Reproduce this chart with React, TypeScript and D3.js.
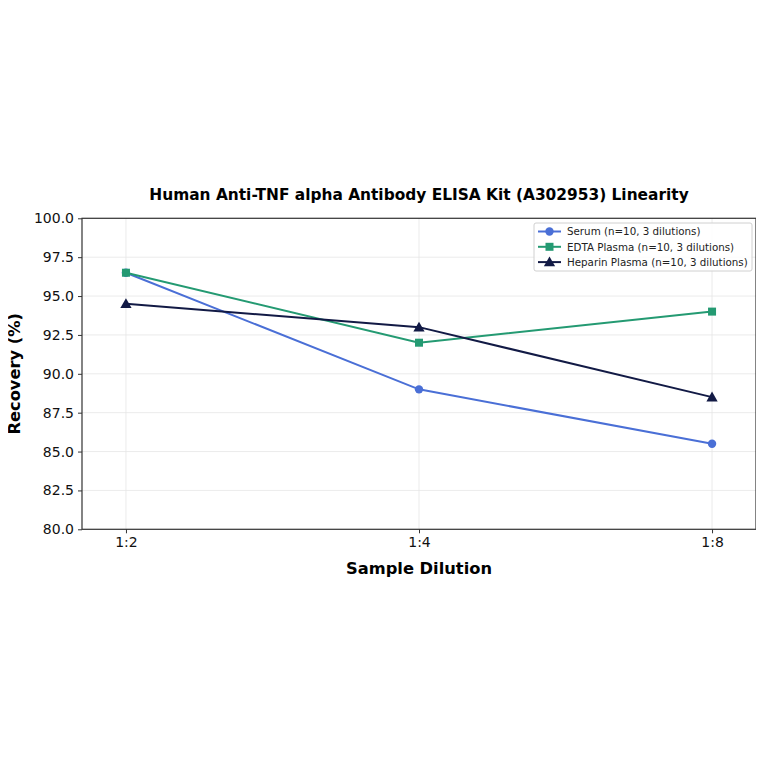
import * as d3 from 'd3';
import { useEffect, useRef } from 'react';

const dilutions = ['1:2', '1:4', '1:8'];
const serum = [96.5, 89.0, 85.5];
const edta = [96.5, 92.0, 94.0];
const heparin = [94.5, 93.0, 88.5];
const seriesNames = [
  'Serum (n=10, 3 dilutions)',
  'EDTA Plasma (n=10, 3 dilutions)',
  'Heparin Plasma (n=10, 3 dilutions)',
];
const yTicks = [80, 82.5, 85, 87.5, 90, 92.5, 95, 97.5, 100];

const FONT = 'DejaVu Sans, sans-serif';

const App: React.FC = () => {
  const ref = useRef<SVGSVGElement>(null);

  useEffect(() => {
    const svg = d3.select(ref.current);
    svg.selectAll('*').remove();

    const left = 82, right = 756, top = 218.3, bottom = 529.3;

    const x = d3.scaleLinear().domain([-0.15, 2.15]).range([left, right]);
    const y = d3.scaleLinear().domain([80, 100]).range([bottom, top]);

    const series = [
      { name: seriesNames[0], values: serum, color: '#4a6fd6', marker: 'circle' },
      { name: seriesNames[1], values: edta, color: '#249a72', marker: 'square' },
      { name: seriesNames[2], values: heparin, color: '#121a45', marker: 'triangle' },
    ];

    // grid
    const grid = svg.append('g');
    grid.selectAll('.gy')
      .data(yTicks)
      .enter()
      .append('line')
      .attr('x1', left).attr('x2', right)
      .attr('y1', (d) => y(d)).attr('y2', (d) => y(d))
      .attr('stroke', '#e6e6e6').attr('stroke-width', 0.8);
    grid.selectAll('.gx')
      .data(dilutions)
      .enter()
      .append('line')
      .attr('x1', (d, i) => x(i)).attr('x2', (d, i) => x(i))
      .attr('y1', top).attr('y2', bottom)
      .attr('stroke', '#e6e6e6').attr('stroke-width', 0.8);

    // axes
    const yAxis = svg.append('g')
      .attr('transform', `translate(${left},0)`)
      .call(d3.axisLeft(y).tickValues(yTicks).tickFormat(d3.format('.1f')).tickSizeOuter(0).tickSize(4).tickPadding(4));
    const xAxis = svg.append('g')
      .attr('transform', `translate(0,${bottom})`)
      .call(d3.axisBottom(x).tickValues([0, 1, 2]).tickFormat((d: any) => dilutions[d]).tickSizeOuter(0).tickSize(4).tickPadding(4));
    [yAxis, xAxis].forEach((a) => {
      a.attr('font-family', FONT).attr('font-size', 14);
      a.selectAll('text').attr('fill', '#111');
      a.selectAll('line').attr('stroke', '#333');
      a.select('.domain').remove();
    });

    // frame
    svg.append('rect')
      .attr('x', left).attr('y', top)
      .attr('width', right - left).attr('height', bottom - top)
      .attr('fill', 'none').attr('stroke', '#333').attr('stroke-width', 1.2);

    const line = d3.line<number>().x((d, i) => x(i)).y((d) => y(d));
    const tri = d3.symbol().type(d3.symbolTriangle).size(55);

    const drawMarker = (g: any, kind: string, cx: number, cy: number, color: string) => {
      if (kind === 'circle') {
        g.append('circle').attr('cx', cx).attr('cy', cy).attr('r', 4.2).attr('fill', color);
      } else if (kind === 'square') {
        g.append('rect').attr('x', cx - 4).attr('y', cy - 4).attr('width', 8).attr('height', 8).attr('fill', color);
      } else {
        g.append('path').attr('d', tri()).attr('transform', `translate(${cx},${cy + 1})`).attr('fill', color);
      }
    };

    series.forEach((s) => {
      const g = svg.append('g');
      g.append('path')
        .datum(s.values)
        .attr('d', line)
        .attr('fill', 'none')
        .attr('stroke', s.color)
        .attr('stroke-width', 2);
      s.values.forEach((v, i) => drawMarker(g, s.marker, x(i), y(v), s.color));
    });

    // legend
    const lg = svg.append('g');
    lg.append('rect')
      .attr('x', 534).attr('y', 223).attr('width', 218).attr('height', 48).attr('rx', 2)
      .attr('fill', 'white').attr('fill-opacity', 0.85).attr('stroke', '#d0d0d0');
    series.forEach((s, i) => {
      const cy = 231.5 + i * 15.3;
      lg.append('line').attr('x1', 538).attr('x2', 561).attr('y1', cy).attr('y2', cy)
        .attr('stroke', s.color).attr('stroke-width', 2);
      drawMarker(lg, s.marker, 549.5, cy, s.color);
      lg.append('text').attr('x', 567).attr('y', cy + 3.8)
        .attr('font-family', FONT).attr('font-size', 10.3).attr('fill', '#222')
        .text(s.name);
    });

    // titles
    svg.append('text')
      .attr('x', (left + right) / 2).attr('y', 200)
      .attr('text-anchor', 'middle')
      .attr('font-family', FONT).attr('font-size', 15.4).attr('font-weight', 'bold')
      .text('Human Anti-TNF alpha Antibody ELISA Kit (A302953) Linearity');
    svg.append('text')
      .attr('x', (left + right) / 2).attr('y', 574)
      .attr('text-anchor', 'middle')
      .attr('font-family', FONT).attr('font-size', 16.3).attr('font-weight', 'bold')
      .text('Sample Dilution');
    svg.append('text')
      .attr('transform', `translate(20,${(top + bottom) / 2}) rotate(-90)`)
      .attr('text-anchor', 'middle')
      .attr('font-family', FONT).attr('font-size', 16.3).attr('font-weight', 'bold')
      .text('Recovery (%)');
  }, []);

  return <svg ref={ref} width={764} height={764} style={{ display: 'block', margin: -8, background: 'white' }} />;
};

export default App;
